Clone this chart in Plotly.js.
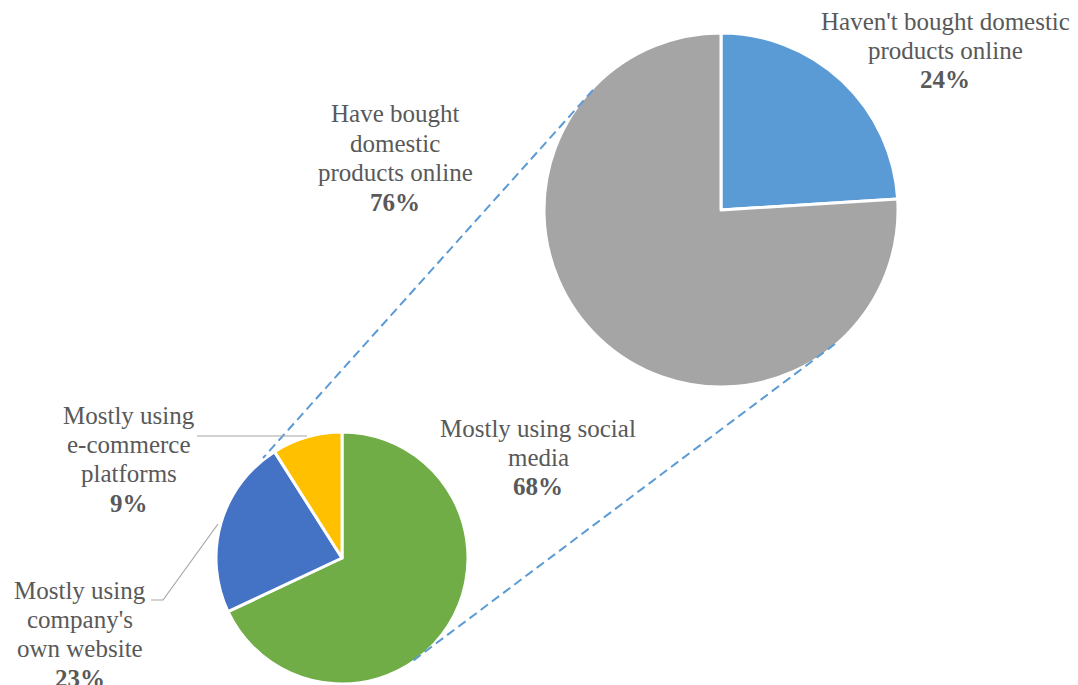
<!DOCTYPE html>
<html>
<head>
<meta charset="utf-8">
<script src="https://cdn.plot.ly/plotly-3.0.1.min.js"></script>
<style>html,body{margin:0;padding:0;background:#fff;}#chart{width:1078px;height:685px;}</style>
</head>
<body>
<div id="chart"></div>
<script>
// Main pie: bought domestic products online?
const mainLabels = ["Haven't bought domestic products online", "Have bought domestic products online"];
const mainLabelLines = [["Haven't bought domestic", "products online"], ["Have bought", "domestic", "products online"]];
const mainValues = [24, 76];
const mainColors = ["#5B9BD5", "#A5A5A5"];

// Breakdown pie: channel used
const subLabels = ["Mostly using social media", "Mostly using company's own website", "Mostly using e-commerce platforms"];
const subLabelLines = [["Mostly using social", "media"], ["Mostly using", "company's", "own website"], ["Mostly using", "e-commerce", "platforms"]];
const subValues = [68, 23, 9];
const subColors = ["#70AD47", "#4472C4", "#FFC000"];

const W = 1078, H = 685;
const px = x => x / W;
const py = y => 1 - y / H;

const traces = [
  {
    type: 'pie', labels: mainLabels, values: mainValues, sort: false,
    direction: 'clockwise', rotation: 0, textinfo: 'none', hoverinfo: 'none',
    marker: {colors: mainColors, line: {color: '#ffffff', width: 3}},
    domain: {x: [px(544), px(898)], y: [py(387), py(33)]}, showlegend: false
  },
  {
    type: 'pie', labels: subLabels, values: subValues, sort: false,
    direction: 'clockwise', rotation: 0, textinfo: 'none', hoverinfo: 'none',
    marker: {colors: subColors, line: {color: '#ffffff', width: 3}},
    domain: {x: [px(216), px(468)], y: [py(684), py(432)]}, showlegend: false
  }
];

const FS = 25, LINE = 29.4, BASE_OFF = 8;
// label placement: [centre x, baseline y of first line] in pixels
const mainLabelPos = [[945, 29], [395, 122]];
const subLabelPos = [[538, 436], [80, 598], [129, 423]];

const annotations = [];
function addLabel(lines, v, pos) {
  const all = lines.concat(['<b>' + v + '%</b>']);
  all.forEach((t, k) => {
    annotations.push({xref: 'paper', yref: 'paper', x: px(pos[0]), y: py(pos[1] + k * LINE - BASE_OFF),
      xanchor: 'center', yanchor: 'middle', showarrow: false, align: 'center', text: t});
  });
}
mainLabels.forEach((l, i) => addLabel(mainLabelLines[i], mainValues[i], mainLabelPos[i]));
subLabels.forEach((l, i) => addLabel(subLabelLines[i], subValues[i], subLabelPos[i]));

const dash = {color: '#5B9BD5', width: 2, dash: '9px,5px'};
const lead = {color: '#A6A6A6', width: 1.2};
const shapes = [
  {type: 'line', xref: 'paper', yref: 'paper', x0: px(593), y0: py(90), x1: px(263), y1: py(458), line: dash},
  {type: 'line', xref: 'paper', yref: 'paper', x0: px(835), y0: py(344), x1: px(410), y1: py(663), line: dash},
  {type: 'path', xref: 'paper', yref: 'paper', path: `M ${px(197)} ${py(436)} L ${px(307)} ${py(436)}`, line: lead},
  {type: 'path', xref: 'paper', yref: 'paper', path: `M ${px(151)} ${py(600)} L ${px(163)} ${py(600)} L ${px(218)} ${py(524)}`, line: lead}
];

const layout = {
  width: W, height: H, margin: {l: 0, r: 0, t: 0, b: 0},
  paper_bgcolor: '#ffffff', plot_bgcolor: '#ffffff', showlegend: false,
  font: {family: 'Liberation Serif, Times New Roman, serif', size: FS, color: '#595959'},
  annotations: annotations, shapes: shapes
};

Plotly.newPlot('chart', traces, layout, {displayModeBar: false, staticPlot: true});
</script>
</body>
</html>
